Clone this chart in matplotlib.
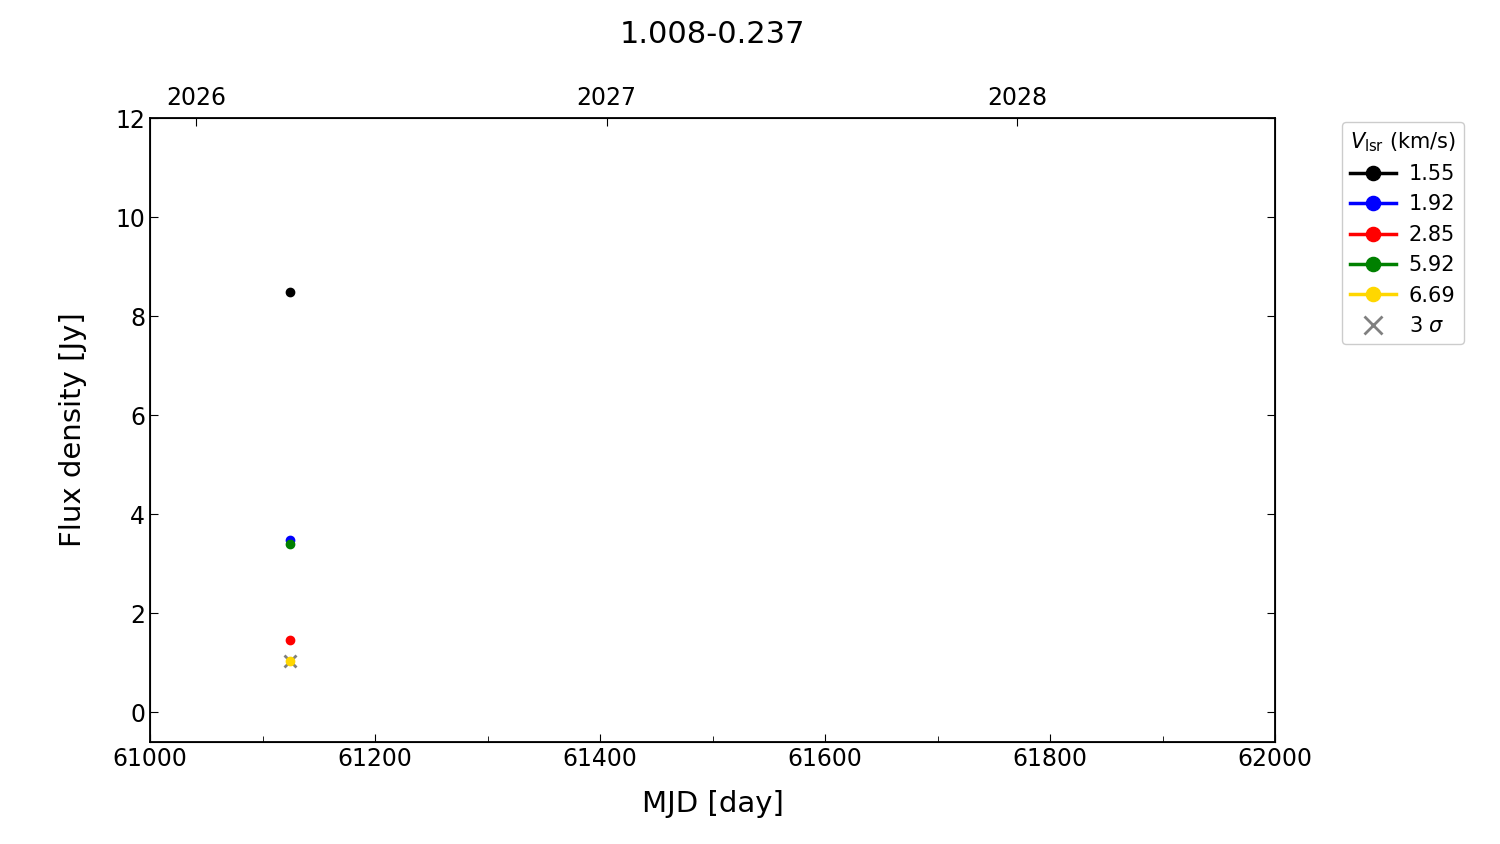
import matplotlib.pyplot as plt
import numpy as np

title = '1.008-0.237'
mjd = [61124.5]
velocities = ['1.55', '1.92', '2.85', '5.92', '6.69']
colors = ['black', 'blue', 'red', 'green', 'gold']
flux = [[8.48], [3.48], [1.45], [3.40], [1.03]]
sigma3_mjd = [61124.5]
sigma3_flux = [1.03]

year_labels = ['2026', '2027', '2028']
year_mjd = [61041, 61406, 61771]

fig = plt.figure(figsize=(15, 8.44), dpi=100)
ax = fig.add_axes([0.1, 0.121, 0.75, 0.739])

ax.plot(sigma3_mjd, sigma3_flux, 'x', color='gray', ms=8, mew=2, label=r'3 $\sigma$', zorder=2)
for v, c, f in zip(velocities, colors, flux):
    ax.plot(mjd, f, '-o', color=c, ms=6, lw=2.5, label=v, zorder=3)

ax.set_xlim(61000, 62000)
ax.set_ylim(-0.6, 12)
ax.set_xticks(np.arange(61000, 62001, 200))
ax.set_xticks(np.arange(61000, 62001, 100), minor=True)
ax.tick_params(which='both', direction='in', top=False, right=True, labelsize=17)
ax.tick_params(which='major', length=6)
ax.tick_params(which='minor', length=4)
for s in ax.spines.values():
    s.set_linewidth(1.3)
ax.set_xlabel('MJD [day]', fontsize=21, labelpad=14)
ax.set_ylabel('Flux density [Jy]', fontsize=21, labelpad=20)

top = ax.twiny()
top.set_xlim(ax.get_xlim())
top.set_xticks(year_mjd)
top.set_xticklabels(year_labels)
top.tick_params(direction='in', labelsize=17, length=6, pad=6)

top.set_title(title, fontsize=22, pad=54)

handles, labels = ax.get_legend_handles_labels()
handles = handles[1:] + handles[:1]
labels = labels[1:] + labels[:1]
leg = ax.legend(handles, labels, title=r'$V_{\rm lsr}$ (km/s)', loc='upper left',
                bbox_to_anchor=(1.05, 1.011), fontsize=15, title_fontsize=15,
                markerscale=1.7, handlelength=2.2, handletextpad=0.6, borderpad=0.4,
                labelspacing=0.5, framealpha=1)

fig.savefig('out.png', dpi=100)
